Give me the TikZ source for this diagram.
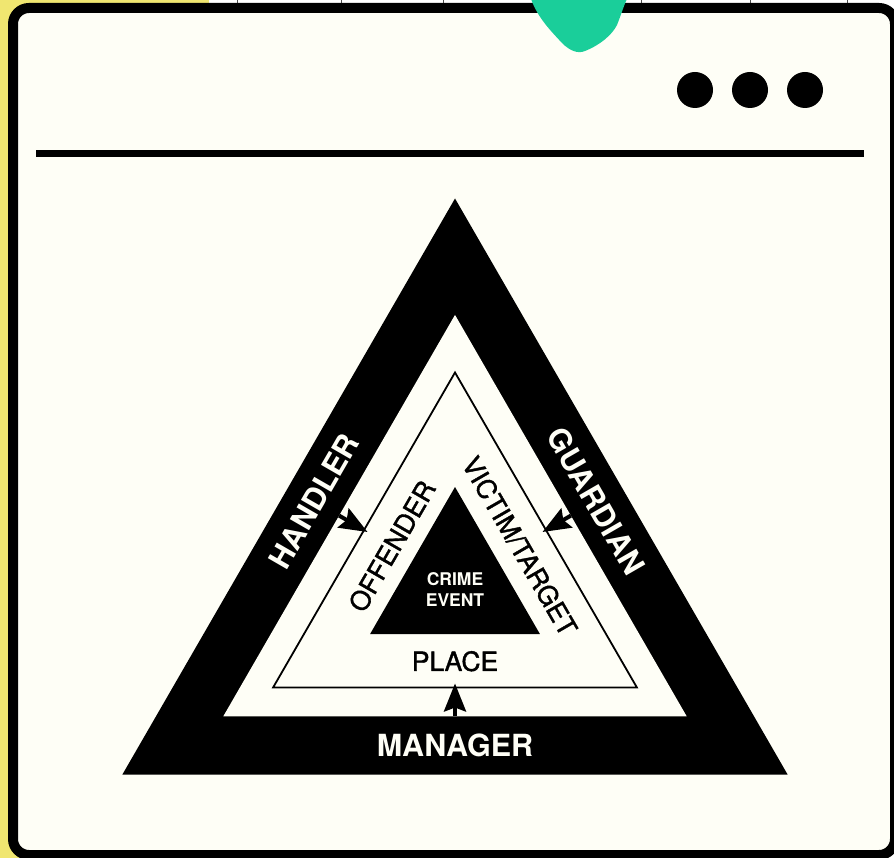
\documentclass[tikz,border=0pt]{standalone}
\usepackage{fontspec}
\setmainfont{TeX Gyre Heros}
\newfontfamily\medfont[FakeBold=1.4]{TeX Gyre Heros}
\usetikzlibrary{arrows.meta}
\definecolor{cream}{RGB}{254,254,246}
\definecolor{yellowbg}{RGB}{240,230,112}
\definecolor{blobgreen}{RGB}{26,206,154}
\tikzset{
  outerlbl/.style={text=cream, inner sep=0pt, text depth=0pt, font=\bfseries\fontsize{30.5}{30.5}\selectfont},
  innerlbl/.style={text=black, inner sep=0pt, text depth=0pt, font=\medfont\fontsize{26.5}{26.5}\selectfont},
  crimelbl/.style={text=cream, inner sep=0pt, align=center, font=\bfseries\fontsize{17.5}{21}\selectfont},
  pointer/.style={line width=4pt, -{Stealth[length=28pt, width=22pt, inset=4pt]}},
}
\begin{document}
\begin{tikzpicture}[x=1pt,y=-1pt]
\useasboundingbox (0,0) rectangle (894,858);
\fill[white] (0,0) rectangle (894,858);
\fill[yellowbg] (0,0) rectangle (209,858);
\foreach \gx in {237,341,443,546,641,750,847}
  \draw[black!70, line width=0.8pt] (\gx,0) -- (\gx,6);
% window frame
\draw[line width=10pt, rounded corners=16pt, fill=cream] (13,8) rectangle (895,855);
% green blob
\fill[blobgreen] (531,-1) .. controls (538,18) and (550,30) .. (562,43)
  .. controls (570,51) and (578,54) .. (585,51)
  .. controls (600,45) and (612,35) .. (617,25)
  .. controls (621,15) and (624,5) .. (627,-1) -- cycle;
% dots
\fill[black] (695,90) circle (18);
\fill[black] (750,90) circle (18);
\fill[black] (805,90) circle (18);
% rule
\draw[line width=7pt] (36,153.5) -- (864,153.5);
% triangles
\fill[black] (455,198.5) -- (787.6,774.5) -- (122.4,774.5) -- cycle;
\fill[cream] (455,314.9) -- (686.7,716.3) -- (223.3,716.3) -- cycle;
\draw[line width=1.8pt, line join=miter] (455,372.5) -- (636.9,687.5) -- (273.1,687.5) -- cycle;
\fill[black] (455,487) -- (539.9,634) -- (370.1,634) -- cycle;
% labels
\node[outerlbl, rotate=60] (handler) at (313.9,501) {HANDLER};
\node[outerlbl, rotate=-60] (guardian) at (596.1,501) {GUARDIAN};
\node[outerlbl] (manager) at (455,745.4) {MANAGER};
\node[innerlbl, rotate=60] (offender) at (391.8,546) {OFFENDER};
\node[innerlbl, rotate=-60] (victim) at (520,546) {VICTIM/TARGET};
\node[innerlbl] (place) at (455,661) {PLACE};
\node[crimelbl] (crime) at (455,589.5) {CRIME\\EVENT};
% arrows
\coordinate (hs) at (339.1,515.6);
\coordinate (he) at (367.5,532);
\coordinate (gs) at (570.9,515.6);
\coordinate (ge) at (542.5,532);
\coordinate (ms) at (455,716.3);
\coordinate (me) at (455,683.5);
\draw[pointer] (hs) -- (he);
\draw[pointer] (gs) -- (ge);
\draw[pointer] (ms) -- (me);
\end{tikzpicture}
\end{document}
